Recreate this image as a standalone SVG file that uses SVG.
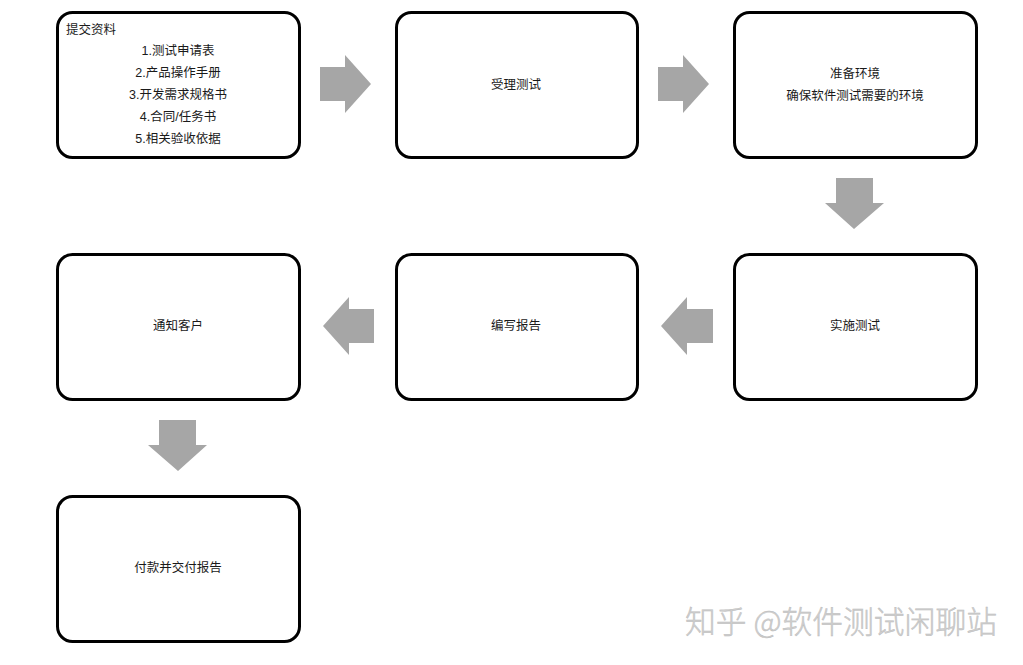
<svg xmlns="http://www.w3.org/2000/svg" width="1023" height="665" viewBox="0 0 1023 665">
<style>
.box{fill:#fff;stroke:#000;stroke-width:3}
.t{font-family:"Liberation Sans","Noto Sans CJK SC",sans-serif;font-size:12.5px;fill:#1a1a1a;text-anchor:middle}
.arr{fill:#a6a6a6}
.wm{font-family:"Noto Sans CJK SC",sans-serif;font-size:30.8px;font-weight:300;fill:#cfcfcf;stroke:#b8b8b8;stroke-width:0.4}
</style>
<rect width="1023" height="665" fill="#fff"/>
<g id="n1"><rect class="box" x="57.5" y="12.5" width="242" height="145" rx="15"/>
<text class="t" x="66" y="34" style="text-anchor:start">提交资料</text>
<text class="t" x="178" y="55">1.测试申请表</text>
<text class="t" x="178" y="77">2.产品操作手册</text>
<text class="t" x="178" y="99">3.开发需求规格书</text>
<text class="t" x="178" y="121">4.合同/任务书</text>
<text class="t" x="178" y="143">5.相关验收依据</text></g>
<g id="n2"><rect class="box" x="396.5" y="12.5" width="241" height="145" rx="15"/><text class="t" x="516" y="89">受理测试</text></g>
<g id="n3"><rect class="box" x="734.5" y="12.5" width="242" height="145" rx="15"/><text class="t" x="855" y="78">准备环境</text><text class="t" x="855" y="100">确保软件测试需要的环境</text></g>
<g id="n4"><rect class="box" x="734.5" y="254.5" width="242" height="145" rx="15"/><text class="t" x="855" y="330">实施测试</text></g>
<g id="n5"><rect class="box" x="396.5" y="254.5" width="241" height="145" rx="15"/><text class="t" x="516" y="330">编写报告</text></g>
<g id="n6"><rect class="box" x="57.5" y="254.5" width="242" height="145" rx="15"/><text class="t" x="178" y="330">通知客户</text></g>
<g id="n7"><rect class="box" x="57.5" y="496.5" width="242" height="145" rx="15"/><text class="t" x="178" y="572">付款并交付报告</text></g>
<g id="connectors">
<polygon class="arr" points="320,67 345,67 345,55 371,84 345,113 345,101 320,101"/>
<polygon class="arr" points="658,67 683,67 683,55 709,84 683,113 683,101 658,101"/>
<polygon class="arr" points="836,178 873,178 873,203 884,203 854,229 825,203 836,203"/>
<polygon class="arr" points="374,309 349,309 349,297 323,326 349,355 349,343 374,343"/>
<polygon class="arr" points="713,309 687,309 687,297 661,326 687,355 687,343 713,343"/>
<polygon class="arr" points="159,420 196,420 196,445 207,445 178,471 148,445 159,445"/>
</g>
<text class="wm" x="685" y="633">知乎 @软件测试闲聊站</text>
</svg>
